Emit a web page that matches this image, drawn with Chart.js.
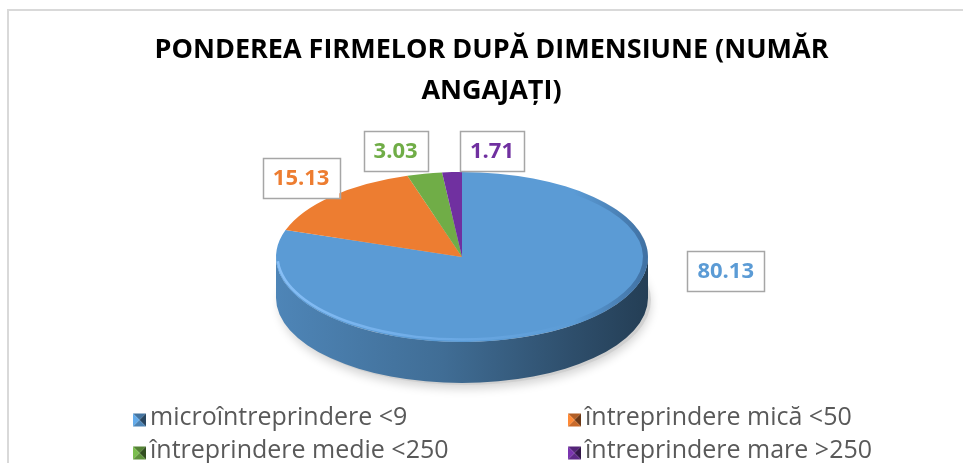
<!DOCTYPE html>
<html>
<head>
<meta charset="utf-8">
<script src="https://cdn.jsdelivr.net/npm/chart.js@4/dist/chart.umd.min.js"></script>
<style>
html,body{margin:0;padding:0;background:#fff;}
canvas{display:block;}
</style>
</head>
<body>
<canvas id="c" width="963" height="463"></canvas>
<script>
// ---- data ----
const categories = ['microîntreprindere <9', 'întreprindere mică <50', 'întreprindere medie <250', 'întreprindere mare >250'];
const shares = [80.13, 15.13, 3.03, 1.71];
const valueLabels = ['80.13', '15.13', '3.03', '1.71'];
const sliceColors = ['#5b9bd5', '#ed7d31', '#70ad47', '#7030a0'];
const titleLines = ['PONDEREA FIRMELOR DUPĂ DIMENSIUNE (NUMĂR', 'ANGAJAȚI)'];

// ---- layout (not data) ----
const PIE = { cx: 462, cy: 257, rx: 186, ry: 85, depth: 41 };
const LABEL_OFFSETS = [[155, -55], [-31, -18], [-29, -23], [40, -21]];
const LEGEND = { x0: 133, colW: 435, y0: 418, rowH: 33, font: '25px "Open Sans"', color: '#595959' };

function shade(hex, f) {
  const n = parseInt(hex.slice(1), 16);
  const r = Math.min(255, Math.round(((n >> 16) & 255) * f));
  const g = Math.min(255, Math.round(((n >> 8) & 255) * f));
  const b = Math.min(255, Math.round((n & 255) * f));
  return `rgb(${r},${g},${b})`;
}

const framePlugin = {
  id: 'frame',
  beforeDraw(chart) {
    const ctx = chart.ctx;
    ctx.save();
    ctx.fillStyle = '#fff';
    ctx.fillRect(0, 0, chart.width, chart.height);
    ctx.strokeStyle = '#d9d9d9';
    ctx.lineWidth = 2;
    ctx.beginPath();
    ctx.moveTo(8, chart.height);
    ctx.lineTo(8, 10);
    ctx.lineTo(chart.width, 10);
    ctx.stroke();
    ctx.restore();
  }
};

const pie3dPlugin = {
  id: 'pie3d',
  beforeDatasetsDraw(chart) {
    const ctx = chart.ctx;
    const meta = chart.getDatasetMeta(0);
    const a0 = meta.data[0];
    const { cx, cy, rx, ry, depth } = PIE;
    ctx.save();
    ctx.save();
    ctx.shadowColor = 'rgba(0,0,0,0.28)';
    ctx.shadowBlur = 10;
    ctx.shadowOffsetY = 4;
    ctx.fillStyle = 'rgba(200,200,200,0.6)';
    ctx.beginPath();
    ctx.ellipse(cx + 3, cy + depth + 2, rx, ry, 0, 0, Math.PI * 2);
    ctx.fill();
    ctx.restore();
    meta.data.forEach((arc, i) => {
      const ranges = [[0, Math.PI], [2 * Math.PI, 3 * Math.PI], [-2 * Math.PI, -Math.PI]];
      ranges.forEach(([lo, hi]) => {
        const s = Math.max(arc.startAngle, lo), e = Math.min(arc.endAngle, hi);
        if (e <= s) return;
        const base = sliceColors[i];
        const g = ctx.createLinearGradient(cx - rx, 0, cx + rx, 0);
        g.addColorStop(0, shade(base, 0.86));
        g.addColorStop(0.45, shade(base, 0.7));
        g.addColorStop(0.8, shade(base, 0.5));
        g.addColorStop(1, shade(base, 0.4));
        ctx.fillStyle = g;
        ctx.beginPath();
        ctx.ellipse(cx, cy, rx, ry, 0, s, e, false);
        ctx.ellipse(cx, cy + depth, rx, ry, 0, e, s, true);
        ctx.closePath();
        ctx.fill();
      });
    });
    const r = a0.outerRadius;
    ctx.translate(cx, cy);
    ctx.scale(rx / r, ry / r);
    ctx.translate(-a0.x, -a0.y);
  },
  afterDatasetsDraw(chart) {
    const ctx = chart.ctx;
    ctx.restore();
    const { cx, cy, rx, ry } = PIE;
    ctx.save();
    const g = ctx.createLinearGradient(cx - rx, 0, cx + rx, 0);
    g.addColorStop(0, 'rgba(140,195,250,0.9)');
    g.addColorStop(0.45, 'rgba(120,180,240,0.6)');
    g.addColorStop(0.8, 'rgba(120,180,240,0)');
    ctx.strokeStyle = g;
    ctx.lineWidth = 2.5;
    ctx.beginPath();
    ctx.ellipse(cx, cy - 1, rx - 1.5, ry - 1.5, 0, 0.2 * Math.PI, 0.98 * Math.PI);
    ctx.stroke();
    const g2 = ctx.createLinearGradient(cx + rx * 0.6, 0, cx + rx, 0);
    g2.addColorStop(0, 'rgba(30,60,100,0)');
    g2.addColorStop(1, 'rgba(30,60,100,0.45)');
    ctx.strokeStyle = g2;
    ctx.lineWidth = 5;
    ctx.beginPath();
    ctx.ellipse(cx, cy, rx - 2.5, ry - 2.5, 0, -0.35 * Math.PI, 0.35 * Math.PI);
    ctx.stroke();
    ctx.restore();
  },
  afterDraw(chart) {
    const ctx = chart.ctx;
    const meta = chart.getDatasetMeta(0);
    const { cx, cy, rx, ry } = PIE;
    ctx.save();
    ctx.font = 'bold 22px "Open Sans"';
    ctx.textAlign = 'center';
    ctx.textBaseline = 'middle';
    meta.data.forEach((arc, i) => {
      const mid = (arc.startAngle + arc.endAngle) / 2;
      const px = cx + rx * Math.cos(mid) + LABEL_OFFSETS[i][0];
      const py = cy + ry * Math.sin(mid) + LABEL_OFFSETS[i][1];
      const txt = valueLabels[i];
      const w = ctx.measureText(txt).width + 20;
      const h = 40;
      ctx.fillStyle = '#fff';
      ctx.fillRect(px - w / 2, py - h / 2, w, h);
      ctx.strokeStyle = '#a6a6a6';
      ctx.lineWidth = 1.5;
      ctx.strokeRect(Math.round(px - w / 2) + 0.5, Math.round(py - h / 2) + 0.5, Math.round(w), h);
      ctx.fillStyle = sliceColors[i];
      ctx.fillText(txt, px, py + 1);
    });
    ctx.font = LEGEND.font;
    ctx.textAlign = 'left';
    ctx.textBaseline = 'middle';
    chart.data.labels.forEach((lab, i) => {
      const col = i % 2, row = Math.floor(i / 2);
      const x = LEGEND.x0 + col * LEGEND.colW;
      const y = LEGEND.y0 + row * LEGEND.rowH;
      const s = 13, x0 = x, y0 = y - s / 2 + 2, c = sliceColors[i];
      const tri = (pts, col2) => {
        ctx.fillStyle = col2;
        ctx.beginPath();
        ctx.moveTo(pts[0][0], pts[0][1]);
        ctx.lineTo(pts[1][0], pts[1][1]);
        ctx.lineTo(pts[2][0], pts[2][1]);
        ctx.closePath();
        ctx.fill();
      };
      const mx = x0 + s / 2, my = y0 + s / 2;
      tri([[x0, y0], [x0 + s, y0], [mx, my]], shade(c, 0.75));
      tri([[x0, y0], [x0, y0 + s], [mx, my]], shade(c, 1.1));
      tri([[x0 + s, y0], [x0 + s, y0 + s], [mx, my]], shade(c, 0.45));
      tri([[x0, y0 + s], [x0 + s, y0 + s], [mx, my]], shade(c, 0.85));
      ctx.fillStyle = LEGEND.color;
      ctx.fillText(lab, x + s + 4, y);
    });
    ctx.restore();
  }
};

// fit title to the reference's width
const mctx = document.createElement('canvas').getContext('2d');
mctx.font = 'bold 26px "Open Sans"';
const titleSize = Math.round(26 * 672 / mctx.measureText(titleLines[0]).width);

new Chart(document.getElementById('c'), {
  type: 'pie',
  data: {
    labels: categories,
    datasets: [{
      data: shares,
      backgroundColor: sliceColors,
      borderWidth: 0
    }]
  },
  options: {
    responsive: false,
    animation: false,
    devicePixelRatio: 1,
    layout: { padding: { top: 0, bottom: 60, left: 20, right: 0 } },
    plugins: {
      legend: { display: false },
      tooltip: { enabled: false },
      title: {
        display: true,
        text: titleLines,
        color: '#000',
        font: { family: '"Open Sans"', size: titleSize, weight: 'bold', lineHeight: 41 / titleSize },
        padding: { top: 30, bottom: 0 }
      }
    }
  },
  plugins: [framePlugin, pie3dPlugin]
});
</script>
</body>
</html>
